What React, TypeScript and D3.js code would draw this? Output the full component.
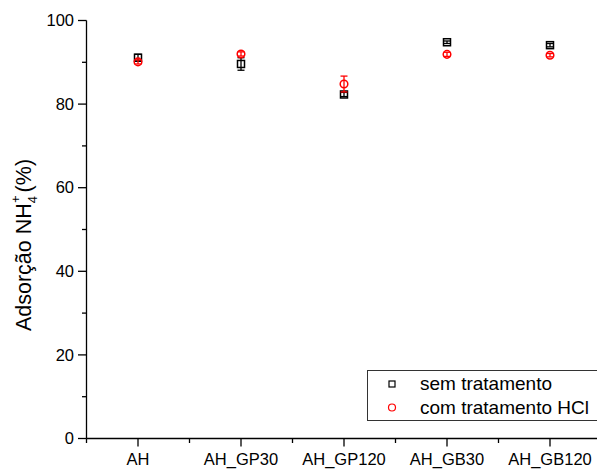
import React from "react";
import * as d3 from "d3";

const categories = ["AH", "AH_GP30", "AH_GP120", "AH_GB30", "AH_GB120"];
const semValues = [91.1, 89.6, 82.3, 94.8, 94.1];
const semErrors = [0.8, 1.5, 0.5, 0.3, 0.4];
const hclValues = [90.1, 92.0, 84.8, 91.9, 91.7];
const hclErrors = [0.5, 0.5, 1.9, 0.5, 0.4];
const yMajorTicks = [0, 20, 40, 60, 80, 100];
const yMinorTicks = [10, 30, 50, 70, 90];
const legendLabels = ["sem tratamento", "com tratamento HCl"];

const W = 597;
const H = 469;

export default function App() {
  const x = d3.scaleLinear().domain([0.5, 5.5]).range([86.5, 601.5]);
  const y = d3.scaleLinear().domain([0, 100]).range([438.5, 20.5]);
  const font = "'Liberation Sans', Arial, sans-serif";
  const xMinor = d3.range(0.5, 6, 1);

  const errBar = (cx: number, v: number, e: number, color: string, key: string) => (
    <g key={key} stroke={color} strokeWidth={1.3}>
      <line x1={cx} x2={cx} y1={y(v + e)} y2={y(v - e)} />
      <line x1={cx - 3.5} x2={cx + 3.5} y1={y(v + e)} y2={y(v + e)} />
      <line x1={cx - 3.5} x2={cx + 3.5} y1={y(v - e)} y2={y(v - e)} />
    </g>
  );

  return (
    <svg
      width={W}
      height={H}
      style={{ position: "absolute", left: 0, top: 0, background: "#fff" }}
      fontFamily={font}
    >
      <rect width={W} height={H} fill="#fff" />
      {/* axes */}
      <line x1={86.5} x2={86.5} y1={y(100)} y2={y(0)} stroke="#000" strokeWidth={1.3} />
      <line x1={86.5} x2={W} y1={y(0)} y2={y(0)} stroke="#000" strokeWidth={1.3} />
      {yMajorTicks.map((t) => (
        <g key={"ym" + t}>
          <line x1={78} x2={86.5} y1={y(t)} y2={y(t)} stroke="#000" strokeWidth={1.3} />
          <text x={74} y={y(t)} dy="0.35em" textAnchor="end" fontSize={16.5}>
            {t}
          </text>
        </g>
      ))}
      {yMinorTicks.map((t) => (
        <line key={"yn" + t} x1={82} x2={86.5} y1={y(t)} y2={y(t)} stroke="#000" strokeWidth={1.3} />
      ))}
      {categories.map((c, i) => (
        <g key={"xm" + c}>
          <line x1={x(i + 1)} x2={x(i + 1)} y1={y(0)} y2={y(0) + 8} stroke="#000" strokeWidth={1.3} />
          <text x={x(i + 1)} y={y(0) + 26.5} textAnchor="middle" fontSize={16.5}>
            {c}
          </text>
        </g>
      ))}
      {xMinor.map((t) => (
        <line key={"xn" + t} x1={x(t)} x2={x(t)} y1={y(0)} y2={y(0) + 4.5} stroke="#000" strokeWidth={1.3} />
      ))}
      {/* y title */}
      <text
        transform={`translate(30.5, ${245}) rotate(-90)`}
        textAnchor="middle"
        fontSize={21.5}
      >
        Adsorção NH
        <tspan dy={6} fontSize={13}>4</tspan>
        <tspan dy={-17} dx={-7} fontSize={13}>+</tspan>
        <tspan dy={11} dx={3}>(%)</tspan>
      </text>
      {/* data: sem tratamento */}
      {semValues.map((v, i) => errBar(x(i + 1), v, semErrors[i], "#000", "se" + i))}
      {semValues.map((v, i) => (
        <rect
          key={"s" + i}
          x={x(i + 1) - 3.5}
          y={y(v) - 3.5}
          width={7}
          height={7}
          fill="none"
          stroke="#000"
          strokeWidth={1.5}
        />
      ))}
      {/* data: com tratamento */}
      {hclValues.map((v, i) => errBar(x(i + 1), v, hclErrors[i], "#ff0000", "he" + i))}
      {hclValues.map((v, i) => (
        <circle
          key={"h" + i}
          cx={x(i + 1)}
          cy={y(v)}
          r={3.8}
          fill="none"
          stroke="#ff0000"
          strokeWidth={1.5}
        />
      ))}
      {/* legend */}
      <rect x={367.5} y={370.5} width={260} height={50} fill="#fff" stroke="#333" strokeWidth={1} />
      <rect x={389} y={381} width={6} height={6} fill="none" stroke="#000" strokeWidth={1.2} />
      <circle cx={392} cy={407.5} r={3.5} fill="none" stroke="#ff0000" strokeWidth={1.2} />
      <text x={420} y={390} fontSize={19}>
        {legendLabels[0]}
      </text>
      <text x={420} y={413.5} fontSize={19}>
        {legendLabels[1]}
      </text>
    </svg>
  );
}
